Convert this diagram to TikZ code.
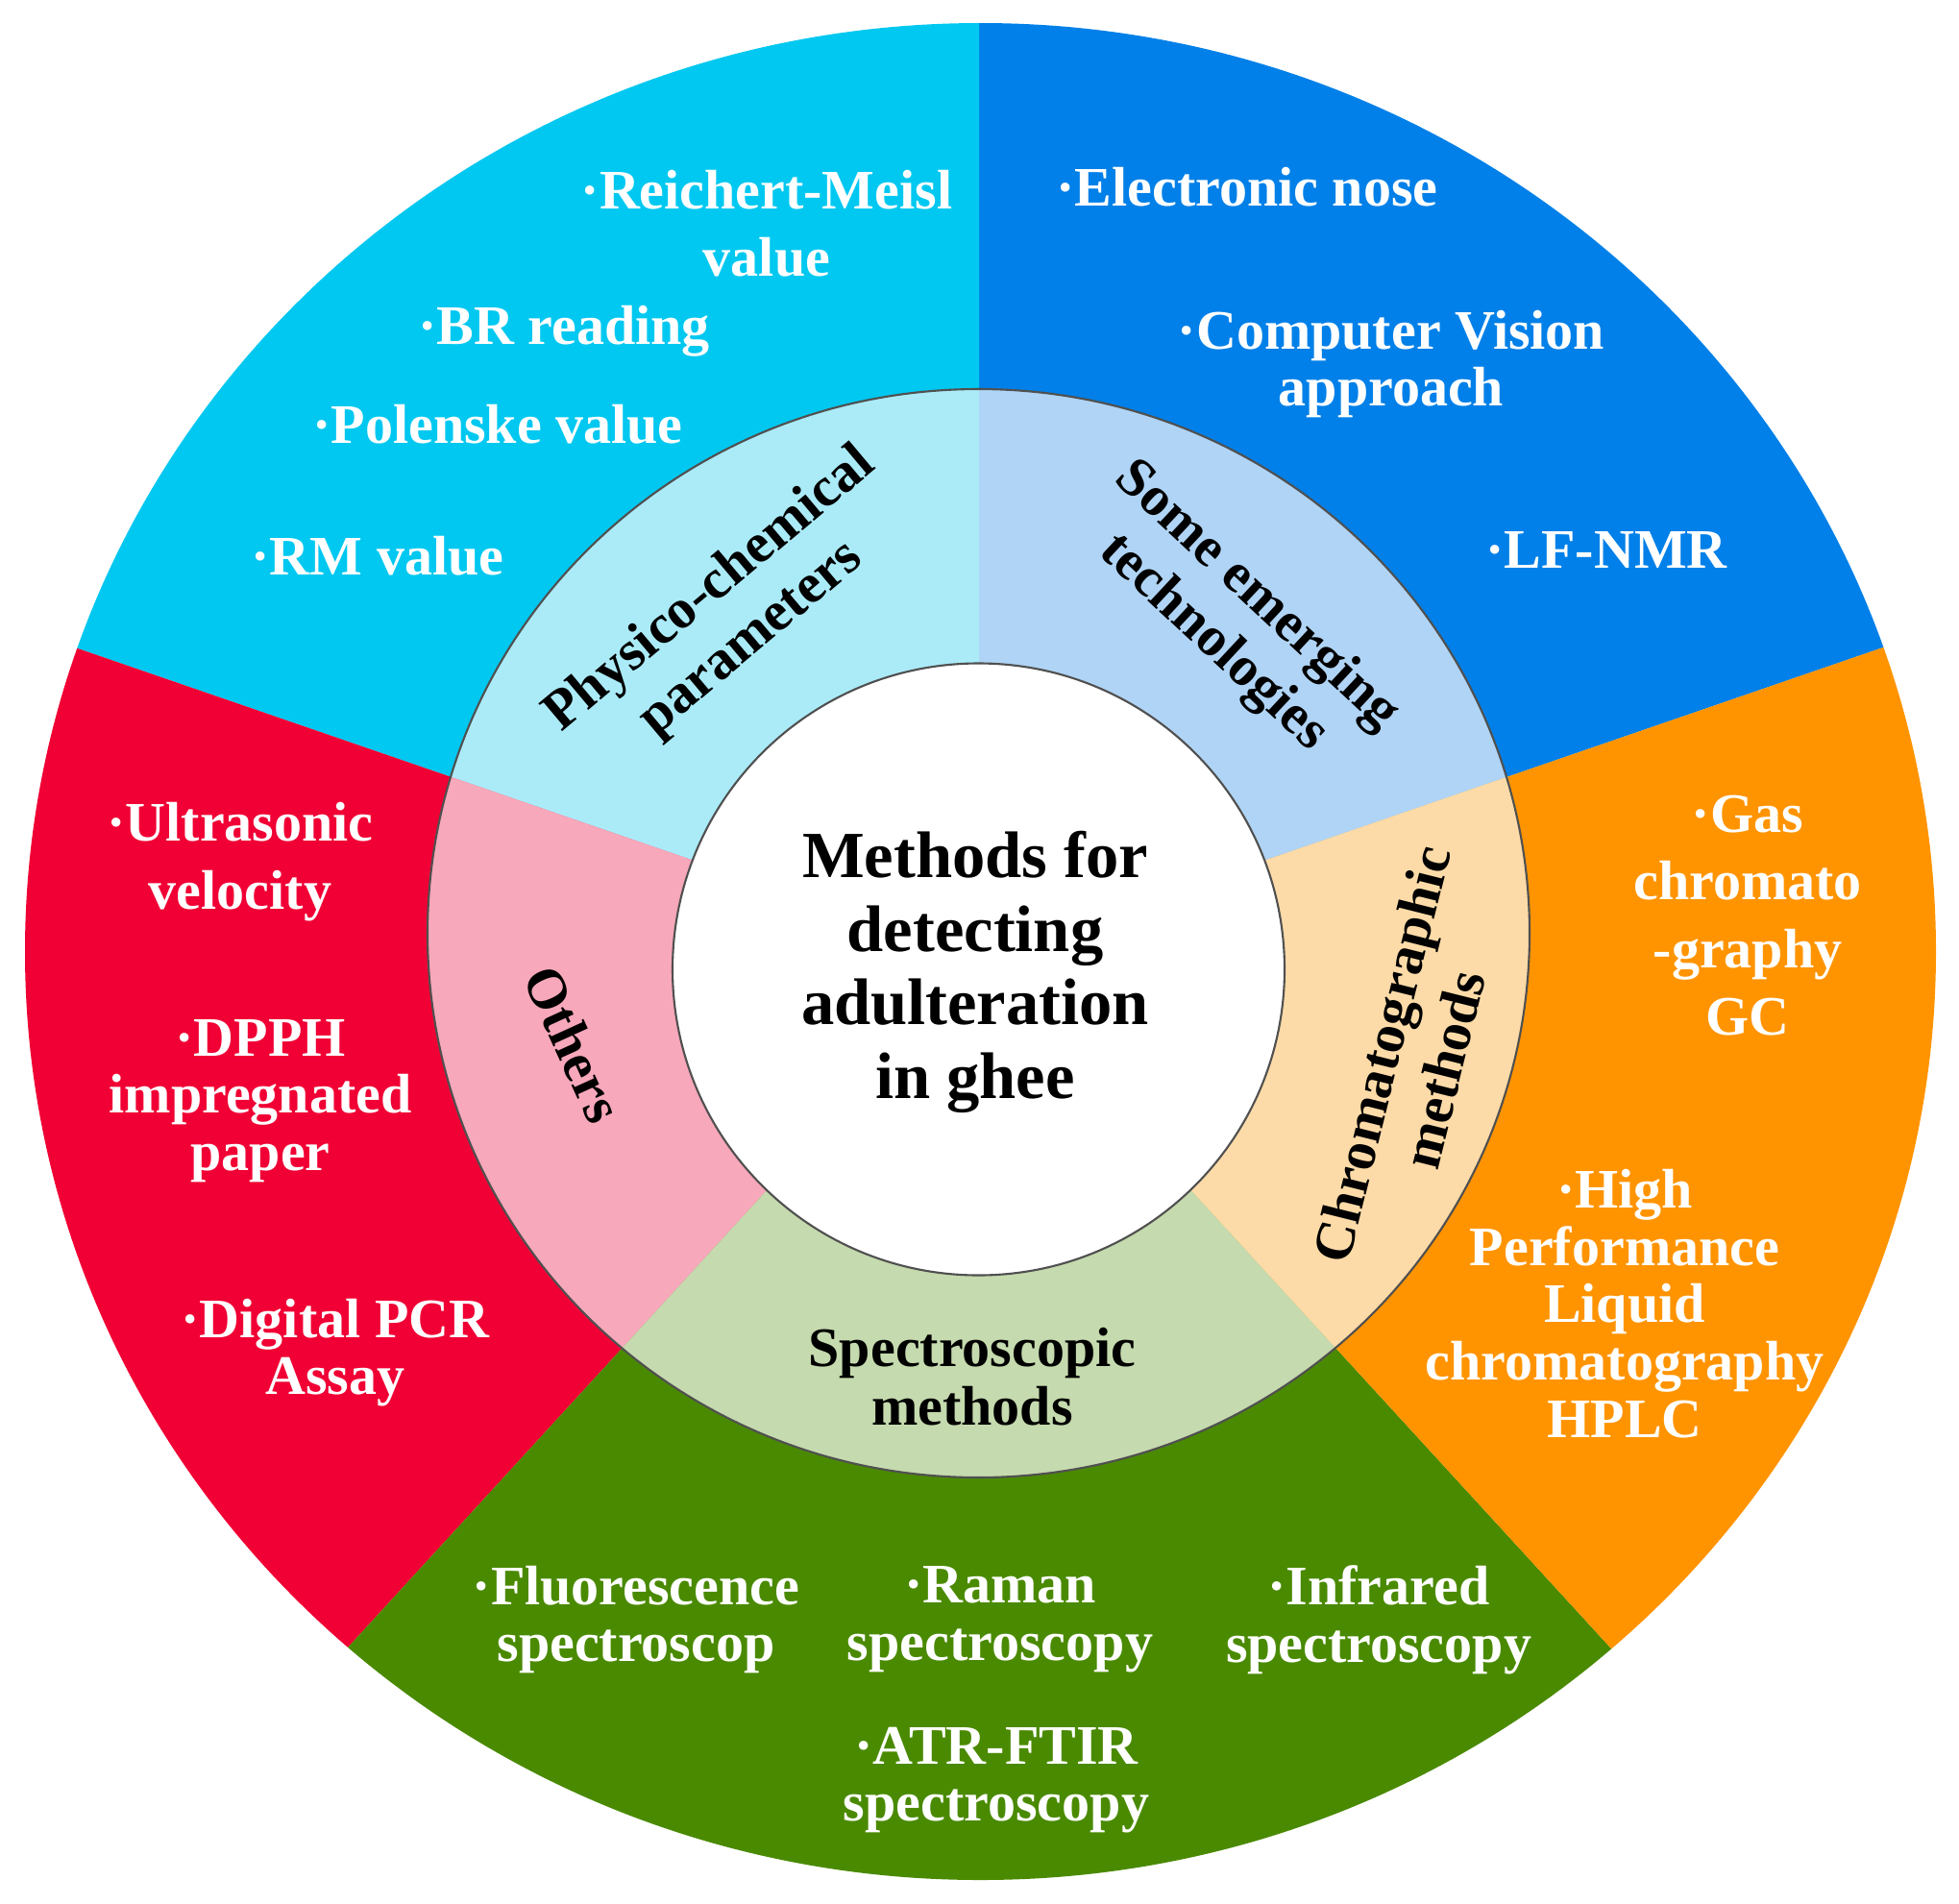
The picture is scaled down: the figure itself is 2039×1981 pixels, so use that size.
\documentclass[tikz,border=0pt]{standalone}
\usepackage{fontspec}
\setmainfont{Liberation Serif}

\definecolor{physout}{HTML}{00C8F0}
\definecolor{emergout}{HTML}{0080E8}
\definecolor{chromout}{HTML}{FF9400}
\definecolor{specout}{HTML}{4A8A00}
\definecolor{othout}{HTML}{F00034}
\definecolor{physin}{HTML}{ABEBF8}
\definecolor{emergin}{HTML}{B0D4F5}
\definecolor{chromin}{HTML}{FDDBA8}
\definecolor{specin}{HTML}{C5DAAE}
\definecolor{othin}{HTML}{F7A8BA}
\definecolor{ringline}{HTML}{505050}

\begin{document}
\begin{tikzpicture}[
        x=0.01cm, y=0.01cm,
        every node/.style={align=center, inner sep=0pt},
        item/.style={text=white, font=\bfseries\fontsize{16.5}{17}\selectfont},
        cat/.style={text=black, font=\bfseries\fontsize{16.5}{17.5}\selectfont},
        tiltcat/.style={cat, font=\bfseries\fontsize{16.5}{19}\selectfont},
        hub/.style={text=black, font=\bfseries\fontsize{19.5}{21.8}\selectfont},
        ring/.style={draw=ringline, line width=0.6pt}
    ]
        \useasboundingbox (0,0) rectangle (2039,-1981);
        \coordinate (c) at (1019,-998);

        % outer sectors
        \begin{scope}
            \clip (1020.5,-990.5) ellipse [x radius=994.5, y radius=966.5];
            \fill[emergout] (c) -- ++(19:2000) arc[start angle=19, end angle=90, radius=2000] -- cycle;
            \fill[physout]  (c) -- ++(90:2000) arc[start angle=90, end angle=161, radius=2000] -- cycle;
            \fill[othout]   (c) -- ++(161:2000) arc[start angle=161, end angle=227.5, radius=2000] -- cycle;
            \fill[specout]  (c) -- ++(227.5:2000) arc[start angle=227.5, end angle=312.5, radius=2000] -- cycle;
            \fill[chromout] (c) -- ++(-47.5:2000) arc[start angle=-47.5, end angle=19, radius=2000] -- cycle;
        \end{scope}

        % middle ring
        \begin{scope}
            \clip (1018.5,-971.5) ellipse [x radius=573.5, y radius=566.5];
            \fill[emergin] (c) -- ++(19:2000) arc[start angle=19, end angle=90, radius=2000] -- cycle;
            \fill[physin]  (c) -- ++(90:2000) arc[start angle=90, end angle=161, radius=2000] -- cycle;
            \fill[othin]   (c) -- ++(161:2000) arc[start angle=161, end angle=227.5, radius=2000] -- cycle;
            \fill[specin]  (c) -- ++(227.5:2000) arc[start angle=227.5, end angle=312.5, radius=2000] -- cycle;
            \fill[chromin] (c) -- ++(-47.5:2000) arc[start angle=-47.5, end angle=19, radius=2000] -- cycle;
        \end{scope}
        \draw[ring] (1018.5,-971.5) ellipse [x radius=573.5, y radius=566.5];
        \filldraw[ring, fill=white] (1018.5,-1009) circle [radius=318.5];

        \node[hub] (hub) at (1015,-1012) {Methods for\\detecting\\adulteration\\in ghee};

        \node[tiltcat, rotate=40]    (phys)  at (761,-640)   {Physico-chemical\\parameters};
        \node[tiltcat, rotate=-43]   (emerg) at (1285,-645)  {Some emerging\\technologies};
        \node[tiltcat, rotate=76]    (chrom) at (1470,-1105) {Chromatographic\\methods};
        \node[cat]                   (spec)  at (1012,-1433) {Spectroscopic\\methods};
        \node[tiltcat, rotate=-65.5] (oth)   at (597,-1087)  {Others};

        \node[item] (rmeisl)   at (798,-233)   {·Reichert-Meisl\\[3pt]value};
        \node[item] (brread)   at (587,-345)   {·BR reading};
        \node[item] (polenske) at (518,-442)   {·Polenske value};
        \node[item] (rmval)    at (393,-579)   {·RM value};

        \node[item] (enose)    at (1298,-195)  {·Electronic nose};
        \node[item] (cvision)  at (1448,-379)  {·Computer Vision\\approach};
        \node[item] (lfnmr)    at (1672,-572)  {·LF-NMR};

        \node[item] (gc)       at (1819,-953)  {·Gas\\[3pt]chromato\\[3pt]-graphy\\[3pt]GC};
        \node[item] (hplc)     at (1691,-1357) {·High\\Performance\\Liquid\\chromatography\\HPLC};

        \node[item] (fluor)    at (662,-1686)  {·Fluorescence\\spectroscop};
        \node[item] (raman)    at (1041,-1686) {·Raman\\spectroscopy};
        \node[item] (infra)    at (1435,-1686) {·Infrared\\spectroscopy};
        \node[item] (atr)      at (1037,-1853) {·ATR-FTIR\\spectroscopy};

        \node[item] (ultra)    at (250,-897)   {·Ultrasonic\\[3pt]velocity};
        \node[item] (dpph)     at (271,-1146)  {·DPPH\\impregnated\\paper};
        \node[item] (pcr)      at (349,-1408)  {·Digital PCR\\Assay};
    \end{tikzpicture}
\end{document}
